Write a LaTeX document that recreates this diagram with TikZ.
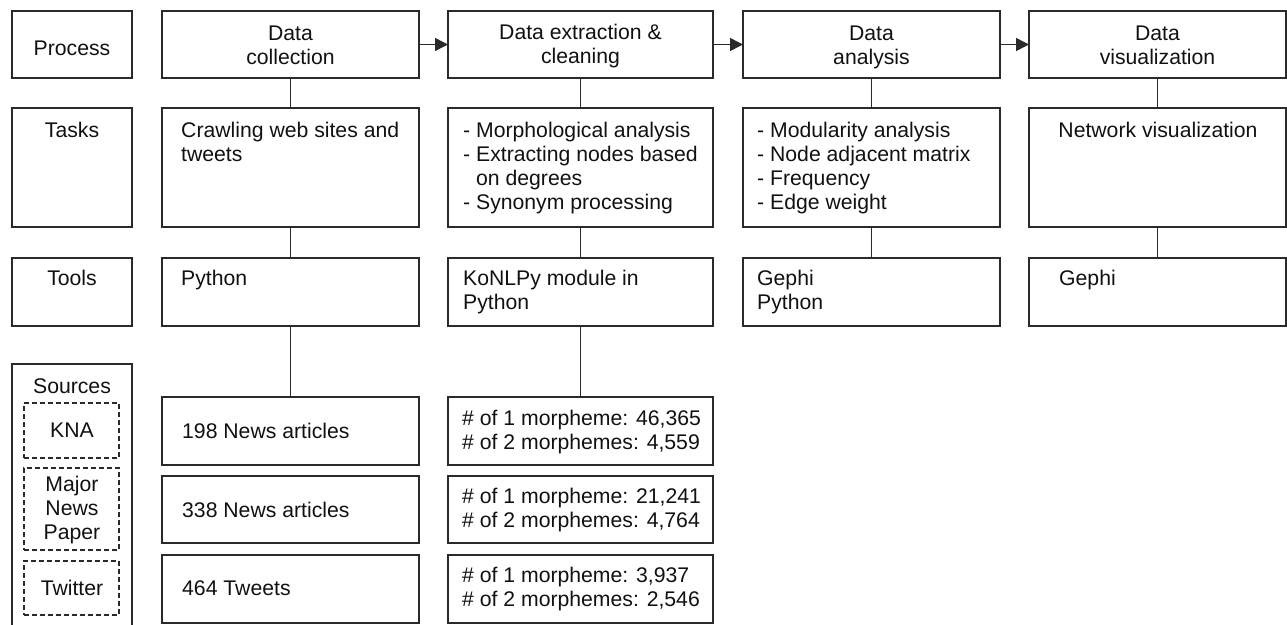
\documentclass[tikz,border=0pt]{standalone}
\usepackage{fontspec}
\setmainfont{Liberation Sans}
\usetikzlibrary{arrows.meta}
\definecolor{linec}{HTML}{2A2A2A}
\definecolor{textc}{HTML}{111111}
\newcommand\Lt[1]{\vtop{\halign{##\hfil\cr#1\crcr}}}
\newcommand\Ct[1]{\vtop{\halign{\hfil##\hfil\cr#1\crcr}}}
\newcommand\bx[5]{\node[box, minimum width=#3pt-#1pt, minimum height=#4pt-#2pt] (#5) at (#1,#2) {};}
\newcommand\dbx[5]{\node[dbox, minimum width=#3pt-#1pt, minimum height=#4pt-#2pt] (#5) at (#1,#2) {};}
\tikzset{
  box/.style={draw=linec, line width=1.5pt, anchor=north west, inner sep=0pt, outer sep=0pt},
  dbox/.style={draw=linec, line width=1.3pt, dash pattern=on 5pt off 3pt, anchor=north west, inner sep=0pt, outer sep=0pt},
  txt/.style={anchor=base west, inner sep=0pt, text=textc, font=\fontsize{21.2}{24}\selectfont},
  ctxt/.style={anchor=base, inner sep=0pt, text=textc, font=\fontsize{21.2}{24}\selectfont},
  conn/.style={draw=linec, line width=1.5pt},
  flow/.style={draw=linec, line width=1.5pt, -{Triangle[length=13pt,width=13pt]}}
}
\begin{document}
\begin{tikzpicture}[x=1pt,y=-1pt]
\useasboundingbox (0,0) rectangle (1287,624);
% left labels
\bx{12}{11}{132}{78}{lp}
\bx{12}{108}{132}{227}{lt}
\bx{12}{258}{132}{326}{lo}
\draw[conn] (12,626) -- (12,364) -- (132,364) -- (132,626);
\node[ctxt] (lpt) at (72,55) {Process};
\node[ctxt] (ltt) at (72,137) {Tasks};
\node[ctxt] (lot) at (72,285) {Tools};
\node[ctxt] (lst) at (72,393) {Sources};
\dbx{24}{403}{119}{458}{s1}
\dbx{24}{468}{119}{550}{s2}
\dbx{24}{561}{119}{615}{s3}
\node[ctxt] (s1t) at (72,437) {KNA};
\node[ctxt] (s2t) at (72,491) {\Ct{Major\cr News\cr Paper}};
\node[ctxt] (s3t) at (72,595) {Twitter};
% column 1
\bx{162}{11}{419}{78}{p1}
\bx{162}{108}{419}{227}{t1}
\bx{162}{258}{419}{326}{o1}
\bx{162}{397}{419}{465}{d11}
\bx{162}{476}{419}{543}{d12}
\bx{162}{555}{419}{623}{d13}
% column 2
\bx{448}{11}{713}{78}{p2}
\bx{448}{108}{713}{227}{t2}
\bx{448}{258}{713}{326}{o2}
\bx{448}{397}{713}{465}{d21}
\bx{448}{476}{713}{543}{d22}
\bx{448}{555}{713}{623}{d23}
% column 3
\bx{743}{11}{1000}{78}{p3}
\bx{743}{108}{1000}{227}{t3}
\bx{743}{258}{1000}{326}{o3}
% column 4
\bx{1029}{11}{1286}{78}{p4}
\bx{1029}{108}{1286}{227}{t4}
\bx{1029}{258}{1286}{326}{o4}
% connectors
\foreach \c in {1,2,3,4}{
  \draw[conn] (p\c.south) -- (t\c.north);
  \draw[conn] (t\c.south) -- (o\c.north);
}
\draw[conn] (o1.south) -- (d11.north);
\draw[conn] (o2.south) -- (d21.north);
\draw[flow] (p1.east) -- (p2.west);
\draw[flow] (p2.east) -- (p3.west);
\draw[flow] (p3.east) -- (p4.west);
% process texts
\node[ctxt] (p1t) at (290.5,40) {\Ct{Data\cr collection}};
\node[ctxt] (p2t) at (580.5,39) {\Ct{Data extraction \&\cr cleaning}};
\node[ctxt] (p3t) at (871.5,40) {\Ct{Data\cr analysis}};
\node[ctxt] (p4t) at (1157.5,40) {\Ct{Data\cr visualization}};
% tasks texts
\node[txt] (t1t) at (181,137) {\Lt{Crawling web sites and\cr tweets}};
\node[txt] (t2t) at (463,137) {\Lt{- Morphological analysis\cr - Extracting nodes based\cr \hphantom{- }on degrees\cr - Synonym processing}};
\node[txt] (t3t) at (757,137) {\Lt{- Modularity analysis\cr - Node adjacent matrix\cr - Frequency\cr - Edge weight}};
\node[ctxt] (t4t) at (1158,137) {Network visualization};
% tools texts
\node[txt] (o1t) at (181,285) {Python};
\node[txt] (o2t) at (463,285) {\Lt{KoNLPy module in\cr Python}};
\node[txt] (o3t) at (757,285) {\Lt{Gephi\cr Python}};
\node[txt] (o4t) at (1059,285) {Gephi};
% data texts
\node[txt] (d11t) at (182,438) {198 News articles};
\node[txt] (d12t) at (182,517) {338 News articles};
\node[txt] (d13t) at (182,595) {464 Tweets};
\node[txt] (d21t) at (462,425) {\Lt{\# of 1 morpheme: 46,365\cr \# of 2 morphemes: 4,559}};
\node[txt] (d22t) at (462,503) {\Lt{\# of 1 morpheme: 21,241\cr \# of 2 morphemes: 4,764}};
\node[txt] (d23t) at (462,582) {\Lt{\# of 1 morpheme: 3,937\cr \# of 2 morphemes: 2,546}};
\end{tikzpicture}
\end{document}
